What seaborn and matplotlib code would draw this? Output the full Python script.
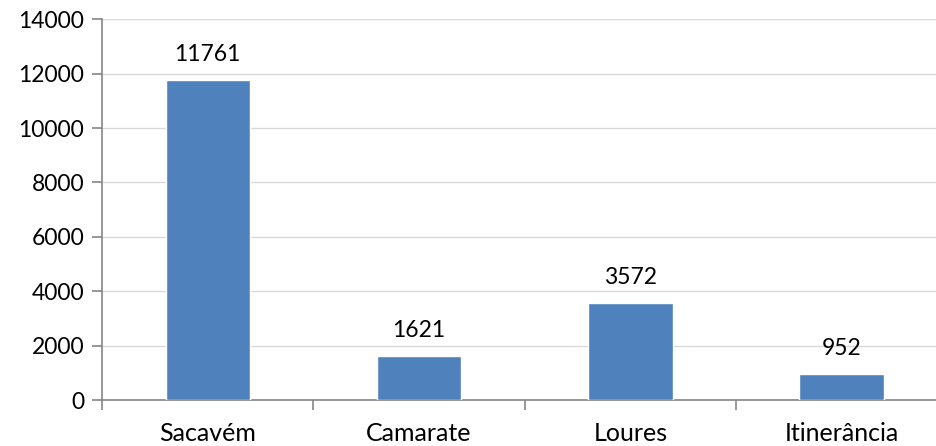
import numpy as np
import matplotlib
matplotlib.use("Agg")
import matplotlib.pyplot as plt
import seaborn as sns
import pandas as pd

locais = ["Sacavém", "Camarate", "Loures", "Itinerância"]
valores = [11761, 1621, 3572, 952]

sns.set_theme(style="white")
plt.rcParams['font.family'] = ['Lato', 'DejaVu Sans']

df = pd.DataFrame({"local": locais, "valor": valores})

fig = plt.figure(figsize=(9.37, 4.46), dpi=100)
# axes runs slightly past the right edge, as in the original
ax = fig.add_axes([0.109, 0.103, 0.902, 0.854])

sns.barplot(data=df, x="local", y="valor", color="#4f81bd", width=0.40,
            saturation=1, ax=ax, zorder=3)
ax.bar_label(ax.containers[0], fmt="%d", padding=11, fontsize=16.5, color="#000000")

ax.set_ylim(0, 14000)
ax.set_xlim(-0.5, 3.5)
ax.set_yticks(np.arange(0, 14001, 2000))
ax.set_xlabel("")
ax.set_ylabel("")

ax.yaxis.grid(True, color="#d9d9d9", linewidth=1, zorder=0)
ax.set_axisbelow(True)

for s in ["top", "right"]:
    ax.spines[s].set_visible(False)
for s in ["left", "bottom"]:
    ax.spines[s].set_color("#868686")
    ax.spines[s].set_linewidth(1.2)

ax.set_xticks([-0.5, 0.5, 1.5, 2.5, 3.5], minor=True)
ax.tick_params(axis="x", which="major", length=0, labelsize=18, pad=16, labelcolor="black")
ax.tick_params(axis="x", which="minor", length=7, color="#868686", width=1.2, direction="out", bottom=True)
ax.tick_params(axis="y", which="major", length=7, color="#868686", width=1.2, direction="out",
               left=True, labelsize=16.5, pad=6, labelcolor="black")

fig.savefig("out.png", dpi=100)
